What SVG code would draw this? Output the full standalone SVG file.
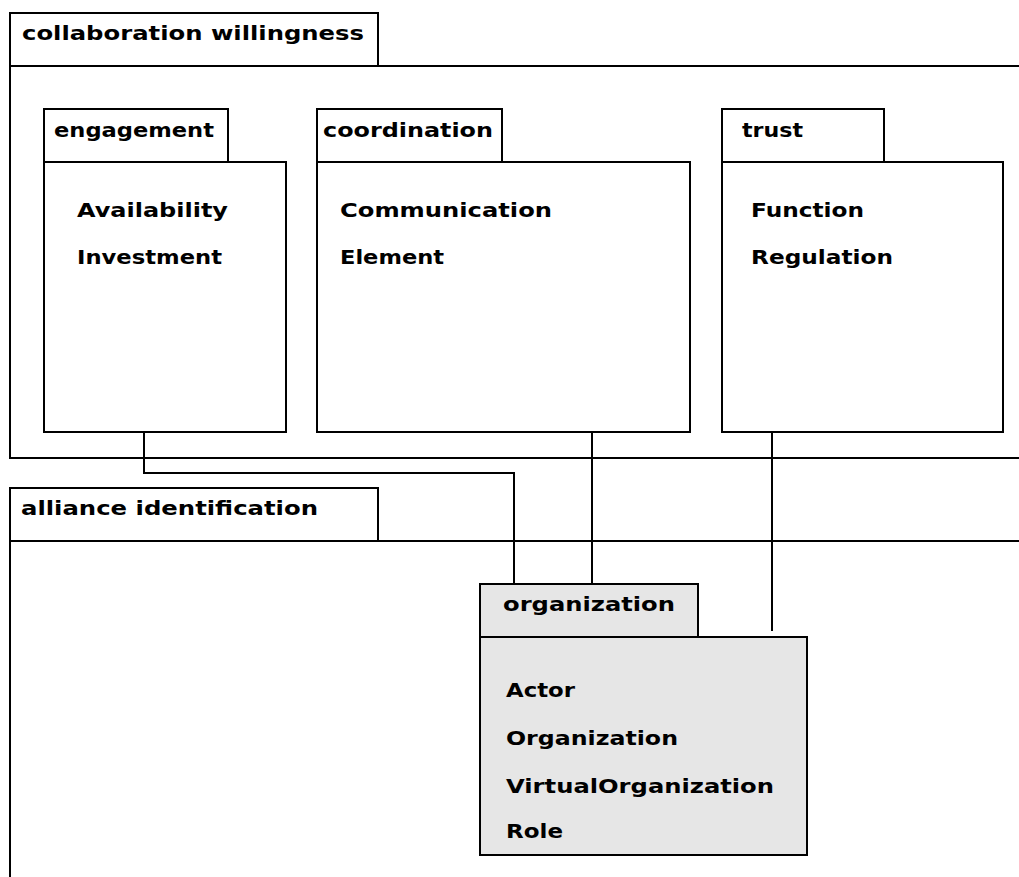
<svg xmlns="http://www.w3.org/2000/svg" width="1019" height="877" viewBox="0 0 1019 877">
<style>
.b{fill:#fff;stroke:#000;stroke-width:2}
.g{fill:#e6e6e6;stroke:#000;stroke-width:2}
.o{fill:none;stroke:#000;stroke-width:2}
.c{fill:none;stroke:#000;stroke-width:2}
text{font-family:"DejaVu Sans","Liberation Sans",sans-serif;font-weight:bold;font-size:20px;fill:#000}
</style>
<rect width="1019" height="877" fill="#fff"/>
<g id="collaboration-willingness">
<rect class="b" x="10" y="13" width="368" height="53"/>
<path class="o" d="M1019,66 H10 V458 H1019"/>
<text x="22" y="40" textLength="342" lengthAdjust="spacingAndGlyphs">collaboration willingness</text>
</g>
<g id="engagement">
<rect class="b" x="44" y="109" width="184" height="53"/>
<rect class="b" x="44" y="162" width="242" height="270"/>
<text x="54" y="137" textLength="160" lengthAdjust="spacingAndGlyphs">engagement</text>
<text x="77" y="217" textLength="151" lengthAdjust="spacingAndGlyphs">Availability</text>
<text x="77" y="264" textLength="145" lengthAdjust="spacingAndGlyphs">Investment</text>
</g>
<g id="coordination">
<rect class="b" x="317" y="109" width="185" height="53"/>
<rect class="b" x="317" y="162" width="373" height="270"/>
<text x="323" y="137" textLength="170" lengthAdjust="spacingAndGlyphs">coordination</text>
<text x="340" y="217" textLength="212" lengthAdjust="spacingAndGlyphs">Communication</text>
<text x="340" y="264" textLength="104" lengthAdjust="spacingAndGlyphs">Element</text>
</g>
<g id="trust">
<rect class="b" x="722" y="109" width="162" height="53"/>
<rect class="b" x="722" y="162" width="281" height="270"/>
<text x="742" y="137" textLength="61" lengthAdjust="spacingAndGlyphs">trust</text>
<text x="751" y="217" textLength="113" lengthAdjust="spacingAndGlyphs">Function</text>
<text x="751" y="264" textLength="142" lengthAdjust="spacingAndGlyphs">Regulation</text>
</g>
<g id="alliance-identification">
<rect class="b" x="10" y="488" width="368" height="53"/>
<path class="o" d="M1019,541 H10 V877"/>
<text x="21" y="515" textLength="297" lengthAdjust="spacingAndGlyphs">alliance identification</text>
</g>
<g id="connectors">
<path class="c" d="M144,432 V473 H514 V584"/>
<path class="c" d="M592,432 V584"/>
<path class="c" d="M772,432 V631"/>
</g>
<g id="organization">
<rect class="g" x="480" y="584" width="218" height="53"/>
<rect class="g" x="480" y="637" width="327" height="218"/>
<text x="503" y="611" textLength="172" lengthAdjust="spacingAndGlyphs">organization</text>
<text x="506" y="697" textLength="69" lengthAdjust="spacingAndGlyphs">Actor</text>
<text x="506" y="745" textLength="172" lengthAdjust="spacingAndGlyphs">Organization</text>
<text x="506" y="793" textLength="268" lengthAdjust="spacingAndGlyphs">VirtualOrganization</text>
<text x="506" y="838" textLength="57" lengthAdjust="spacingAndGlyphs">Role</text>
</g>
</svg>
